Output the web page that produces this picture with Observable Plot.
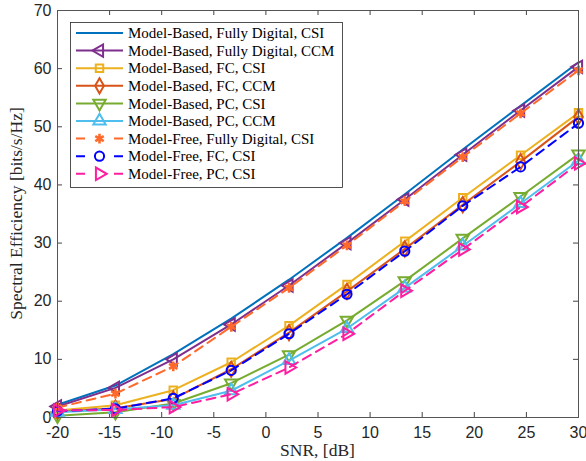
<!DOCTYPE html>
<html><head><meta charset="utf-8">
<script src="https://cdn.jsdelivr.net/npm/d3@7"></script>
<script src="https://cdn.jsdelivr.net/npm/@observablehq/plot@0.6"></script>
<style>body{margin:0;background:#fff}</style>
</head><body><div id="chart"></div>
<script>
const snr = [-20, -14.44, -8.89, -3.33, 2.22, 7.78, 13.33, 18.89, 24.44, 30];
const mbFdCsi  = [2.2, 5.5, 10.9, 17.0, 23.7, 30.9, 38.4, 46.1, 53.6, 61.1];
const mbFdCcm  = [1.9, 5.1, 10.0, 16.0, 22.7, 30.0, 37.5, 45.2, 52.8, 60.3];
const mbFcCsi  = [1.2, 2.1, 4.7, 9.5, 15.8, 22.9, 30.3, 37.8, 45.1, 52.4];
const mbFcCcm  = [1.0, 1.6, 3.2, 8.3, 14.6, 21.7, 29.0, 36.6, 44.0, 51.7];
const mbPcCsi  = [0.3, 0.9, 2.4, 5.9, 10.8, 16.7, 23.5, 30.8, 38.0, 45.3];
const mbPcCcm  = [0.9, 1.4, 2.1, 4.6, 9.8, 15.3, 22.3, 29.5, 36.8, 44.2];
const mfFdCsi  = [1.7, 4.1, 8.8, 15.6, 22.3, 29.6, 37.2, 44.8, 52.3, 59.7];
const mfFcCsi  = [1.1, 1.5, 3.3, 8.1, 14.4, 21.2, 28.6, 36.4, 43.1, 50.6];
const mfPcCsi  = [1.2, 1.3, 1.8, 4.0, 8.6, 14.4, 21.8, 28.9, 36.2, 43.7];
const seriesNames = [
  "Model-Based, Fully Digital, CSI",
  "Model-Based, Fully Digital, CCM",
  "Model-Based, FC, CSI",
  "Model-Based, FC, CCM",
  "Model-Based, PC, CSI",
  "Model-Based, PC, CCM",
  "Model-Free, Fully Digital, CSI",
  "Model-Free, FC, CSI",
  "Model-Free, PC, CSI"
];
const seriesValues = [mbFdCsi, mbFdCcm, mbFcCsi, mbFcCcm, mbPcCsi, mbPcCcm, mfFdCsi, mfFcCsi, mfPcCsi];
const xTicks = [-20, -15, -10, -5, 0, 5, 10, 15, 20, 25, 30];
const yTicks = [0, 10, 20, 30, 40, 50, 60, 70];
const xLabel = "SNR, [dB]";
const yLabel = "Spectral Efficiency [bits/s/Hz]";

const styles = [
  {color: "#0072BD", symbol: null, rotate: 0, dash: null, fill: false},
  {color: "#7E2F8E", symbol: "triangle", rotate: -90, dash: null, fill: false},
  {color: "#EDB120", symbol: "square", rotate: 0, dash: null, fill: false},
  {color: "#D95319", symbol: "diamond", rotate: 0, dash: null, fill: false},
  {color: "#77AC30", symbol: "triangle", rotate: 180, dash: null, fill: false},
  {color: "#4DBEEE", symbol: "triangle", rotate: 0, dash: null, fill: false},
  {color: "#FF6A2A", symbol: "asterisk", rotate: 0, dash: "9,6", fill: true},
  {color: "#0000FF", symbol: "circle", rotate: 0, dash: "9,6", fill: false},
  {color: "#FF1DA0", symbol: "triangle", rotate: 90, dash: "9,6", fill: false}
];

const W = 586, H = 461, mL = 57, mR = 8, mT = 10, mB = 44;
const plotH = H - mT - mB, plotW = W - mL - mR;

const marks = [];
seriesValues.forEach((vals, k) => {
  const st = styles[k];
  const data = snr.map((x, i) => ({x, y: vals[i]}));
  marks.push(Plot.line(data, {x: "x", y: "y", stroke: st.color, strokeWidth: 2, strokeDasharray: st.dash}));
  if (st.symbol) {
    marks.push(Plot.dot(data, {x: "x", y: "y", symbol: st.symbol, r: st.symbol === "square" ? 4.2 : 4.6,
      stroke: st.color, fill: st.fill ? st.color : "none", strokeWidth: st.symbol === "asterisk" ? 2.6 : 2, rotate: st.rotate}));
  }
});

const tickColor = "#444";
const chart = Plot.plot({
  width: W, height: H,
  marginLeft: mL, marginRight: mR, marginTop: mT, marginBottom: mB,
  style: {fontFamily: "'Liberation Sans', Arial, sans-serif", background: "#fff", color: "#262626"},
  x: {domain: [-20, 30]},
  y: {domain: [0, 70]},
  marks: [
    Plot.axisX({ticks: xTicks, tickSize: 0, tickPadding: 9, fontSize: 16, label: null, tickFormat: d => String(d)}),
    Plot.axisY({ticks: yTicks, tickSize: 0, tickPadding: 6, fontSize: 16, label: null, tickFormat: d => String(d)}),
    Plot.tickX(xTicks, {x: d => d, insetTop: plotH - 5, stroke: tickColor}),
    Plot.tickX(xTicks, {x: d => d, insetBottom: plotH - 5, stroke: tickColor}),
    Plot.tickY(yTicks, {y: d => d, insetRight: plotW - 5, stroke: tickColor}),
    Plot.tickY(yTicks, {y: d => d, insetLeft: plotW - 5, stroke: tickColor}),
    ...marks,
    Plot.frame({stroke: "#555", strokeWidth: 1})
  ]
});

const svg = d3.select(chart);
const serif = "'Liberation Serif', 'DejaVu Serif', serif";
svg.append("text").attr("x", mL + plotW / 2).attr("y", 456).attr("text-anchor", "middle")
  .attr("font-family", serif).attr("font-size", 17.5).attr("fill", "#262626").text(xLabel);
svg.append("text").attr("transform", `translate(18,${mT + plotH / 2}) rotate(-90)`).attr("text-anchor", "middle")
  .attr("dominant-baseline", "middle")
  .attr("font-family", serif).attr("font-size", 17.5).attr("fill", "#262626").text(yLabel);

// legend
const lg = svg.append("g").attr("text-anchor", "start");
const lx = 70, ly = 22, lw = 272, rowH = 17.6, row0 = 33;
lg.append("rect").attr("x", lx + 0.5).attr("y", ly + 0.5).attr("width", lw).attr("height", 165)
  .attr("fill", "#fff").attr("stroke", "#262626").attr("stroke-width", 0.8);
const symMap = {triangle: d3.symbolTriangle, square: d3.symbolSquare, diamond: d3.symbolDiamond, asterisk: d3.symbolAsterisk, circle: d3.symbolCircle};
seriesNames.forEach((name, k) => {
  const st = styles[k];
  const y = row0 + k * rowH;
  lg.append("line").attr("x1", 76).attr("x2", 123).attr("y1", y).attr("y2", y)
    .attr("stroke", st.color).attr("stroke-width", 2).attr("stroke-dasharray", st.dash ? "9,29,9" : null);
  if (st.symbol) {
    const r = st.symbol === "square" ? 4.2 : 4.6;
    lg.append("path").attr("d", d3.symbol(symMap[st.symbol], Math.PI * r * r)())
      .attr("transform", `translate(99.5,${y}) rotate(${st.rotate})`)
      .attr("fill", st.fill ? st.color : "none").attr("stroke", st.color)
      .attr("stroke-width", st.symbol === "asterisk" ? 2.6 : 2);
  }
  lg.append("text").attr("x", 128).attr("y", y).attr("dy", "0.35em").attr("text-anchor", "start")
    .attr("font-family", serif).attr("font-size", 15).attr("fill", "#000").text(name);
});
document.getElementById("chart").appendChild(chart);
</script>
</body></html>
